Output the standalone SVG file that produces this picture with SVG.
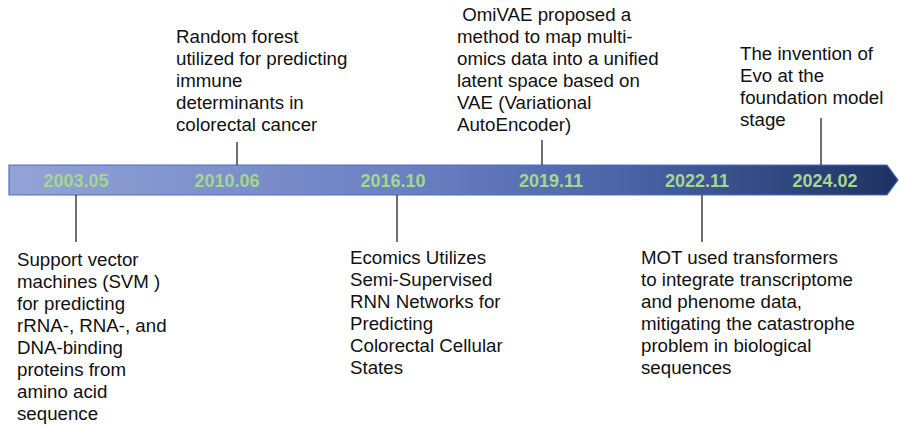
<svg xmlns="http://www.w3.org/2000/svg" width="899" height="426" viewBox="0 0 899 426">
<defs>
<linearGradient id="barGrad" x1="0" y1="0" x2="1" y2="0">
<stop offset="0" stop-color="#93a3d6"/>
<stop offset="0.45" stop-color="#6a80c2"/>
<stop offset="0.7" stop-color="#4a62a6"/>
<stop offset="1" stop-color="#1d3263"/>
</linearGradient>
</defs>
<style>
.t{font-family:"Liberation Sans",Arial,Helvetica,sans-serif;font-size:18.7px;fill:#111;}
.d{font-family:"Liberation Sans",Arial,Helvetica,sans-serif;font-size:18px;font-weight:bold;fill:#a3d88c;text-anchor:middle;}
.c{stroke:#222;stroke-width:1.3;fill:none;}
</style>
<g id="timeline">
<polygon points="9,165 887,165 898,180 887,195 9,195" fill="url(#barGrad)" stroke="#4f6cc4" stroke-width="1.2"/>
<text class="d" x="76" y="187">2003.05</text>
<text class="d" x="227" y="187">2010.06</text>
<text class="d" x="393" y="187">2016.10</text>
<text class="d" x="551" y="187">2019.11</text>
<text class="d" x="697" y="187">2022.11</text>
<text class="d" x="825" y="187">2024.02</text>
</g>
<g id="connectors">
<line class="c" x1="76" y1="195" x2="76" y2="242"/>
<line class="c" x1="237" y1="142" x2="237" y2="165"/>
<line class="c" x1="397" y1="195" x2="397" y2="242"/>
<line class="c" x1="542" y1="140" x2="542" y2="165"/>
<line class="c" x1="702" y1="195" x2="702" y2="242"/>
<line class="c" x1="821" y1="118" x2="821" y2="165" stroke="#666"/>
</g>
<g id="n2003">
<text class="t" x="17" y="266">Support vector</text>
<text class="t" x="17" y="288">machines (SVM )</text>
<text class="t" x="17" y="310">for predicting</text>
<text class="t" x="17" y="332">rRNA-, RNA-, and</text>
<text class="t" x="17" y="354">DNA-binding</text>
<text class="t" x="17" y="376">proteins from</text>
<text class="t" x="17" y="398">amino acid</text>
<text class="t" x="17" y="420">sequence</text>
</g>
<g id="n2010">
<text class="t" x="176" y="43">Random forest</text>
<text class="t" x="176" y="65">utilized for predicting</text>
<text class="t" x="176" y="87">immune</text>
<text class="t" x="176" y="109">determinants in</text>
<text class="t" x="176" y="131">colorectal cancer</text>
</g>
<g id="n2016">
<text class="t" x="350" y="264">Ecomics Utilizes</text>
<text class="t" x="350" y="286">Semi-Supervised</text>
<text class="t" x="350" y="308">RNN Networks for</text>
<text class="t" x="350" y="330">Predicting</text>
<text class="t" x="350" y="352">Colorectal Cellular</text>
<text class="t" x="350" y="374">States</text>
</g>
<g id="n2019">
<text class="t" x="457" y="21" xml:space="preserve"> OmiVAE proposed a</text>
<text class="t" x="457" y="43">method to map multi-</text>
<text class="t" x="457" y="65">omics data into a unified</text>
<text class="t" x="457" y="87">latent space based on</text>
<text class="t" x="457" y="109">VAE (Variational</text>
<text class="t" x="457" y="131">AutoEncoder)</text>
</g>
<g id="n2022">
<text class="t" x="641" y="264">MOT used transformers</text>
<text class="t" x="641" y="286">to integrate transcriptome</text>
<text class="t" x="641" y="308">and phenome data,</text>
<text class="t" x="641" y="330">mitigating the catastrophe</text>
<text class="t" x="641" y="352">problem in biological</text>
<text class="t" x="641" y="374">sequences</text>
</g>
<g id="n2024">
<text class="t" x="740" y="60">The invention of</text>
<text class="t" x="740" y="82">Evo at the</text>
<text class="t" x="740" y="104">foundation model</text>
<text class="t" x="740" y="126">stage</text>
</g>
</svg>
